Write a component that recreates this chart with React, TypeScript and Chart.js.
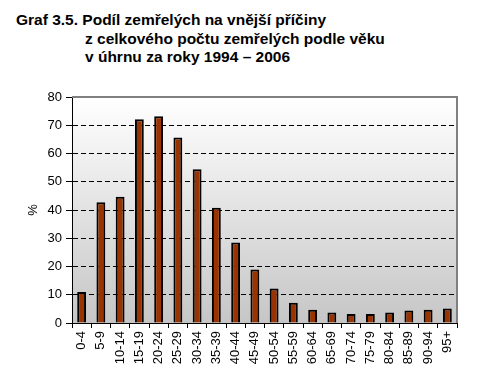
import React, { useEffect, useRef } from "react";
import { Chart, registerables } from "chart.js";

Chart.register(...registerables);

const titleLines = [
  "Graf 3.5. Podíl zemřelých na vnější příčiny",
  "z celkového počtu zemřelých podle věku",
  "v úhrnu za roky 1994 – 2006",
];
const categories = [
  "0-4", "5-9", "10-14", "15-19", "20-24", "25-29", "30-34", "35-39", "40-44", "45-49",
  "50-54", "55-59", "60-64", "65-69", "70-74", "75-79", "80-84", "85-89", "90-94", "95+",
];
const shares = [
  11.0, 42.7, 44.7, 72.1, 73.2, 65.7, 54.4, 40.8, 28.5, 18.9,
  12.2, 7.2, 4.7, 3.7, 3.2, 3.2, 3.7, 4.4, 4.7, 5.1,
];
const yTitle = "%";
const yMax = 80;
const yStep = 10;

const FONT = "'Liberation Sans', Arial, sans-serif";

const plotDecor = {
  id: "plotDecor",
  beforeDraw(chart: any) {
    const { ctx, chartArea: a } = chart;
    ctx.save();
    const g = ctx.createLinearGradient(0, a.top, 0, a.bottom);
    g.addColorStop(0, "#ffffff");
    g.addColorStop(1, "#c6c6c6");
    ctx.fillStyle = g;
    ctx.fillRect(a.left, a.top, a.right - a.left, a.bottom - a.top);
    ctx.restore();
  },
  beforeDatasetsDraw(chart: any) {
    const { ctx, chartArea: a } = chart;
    ctx.save();
    ctx.strokeStyle = "#808080";
    ctx.lineWidth = 2;
    ctx.beginPath();
    ctx.moveTo(a.left, a.top);
    ctx.lineTo(a.right, a.top);
    ctx.lineTo(a.right, a.bottom);
    ctx.stroke();
    // y axis title
    ctx.fillStyle = "#000";
    ctx.font = `13px ${FONT}`;
    ctx.textAlign = "center";
    ctx.textBaseline = "middle";
    ctx.translate(33, (a.top + a.bottom) / 2);
    ctx.rotate(-Math.PI / 2);
    ctx.fillText(yTitle, 0, 0);
    ctx.restore();
  },
};

export default function App() {
  const ref = useRef<HTMLCanvasElement | null>(null);
  useEffect(() => {
    if (!ref.current) return;
    const chart = new Chart(ref.current, {
      type: "bar",
      data: {
        labels: categories,
        datasets: [
          {
            data: shares,
            backgroundColor: "#993300",
            borderColor: "#000000",
            borderWidth: 2,
            borderSkipped: "bottom",
            barPercentage: 0.46,
            categoryPercentage: 1,
          },
        ],
      },
      options: {
        animation: false,
        responsive: false,
        maintainAspectRatio: false,
        layout: { padding: { left: 0, right: 25, top: 97, bottom: 0 } },
        plugins: { legend: { display: false }, tooltip: { enabled: false }, title: { display: false } },
        scales: {
          x: {
            type: "category",
            grid: {
              offset: true,
              drawOnChartArea: false,
              drawTicks: true,
              tickLength: 5,
              tickColor: "#000",
              tickWidth: 1,
            },
            border: { display: true, color: "#000", width: 1 },
            ticks: {
              minRotation: 90,
              maxRotation: 90,
              autoSkip: false,
              color: "#000",
              padding: 3,
              font: { family: FONT, size: 13 },
            },
            afterFit(scale: any) {
              scale.height = 49;
            },
          },
          y: {
            min: 0,
            max: yMax,
            grid: {
              color: (c: any) => (c.tick && (c.tick.value === 0 || c.tick.value === yMax) ? "rgba(0,0,0,0)" : "#000"),
              lineWidth: 1,
              drawTicks: true,
              tickLength: 6,
              tickColor: "#000",
              tickBorderDash: [],
            },
            border: { display: true, color: "#000", width: 1, dash: [5, 3] },
            ticks: {
              stepSize: yStep,
              color: "#000",
              padding: 4,
              font: { family: FONT, size: 13 },
            },
            afterFit(scale: any) {
              scale.width = 72;
            },
          },
        },
      },
      plugins: [plotDecor],
    });
    return () => chart.destroy();
  }, []);

  return (
    <div style={{ position: "absolute", left: 0, top: 0, width: 482, height: 372, background: "#fff" }}>
      <div
        style={{
          position: "absolute",
          left: 16,
          top: 11,
          fontFamily: FONT,
          fontWeight: "bold",
          fontSize: 15.5,
          lineHeight: "18.5px",
          color: "#000",
          whiteSpace: "pre",
        }}
      >
        <div>{titleLines[0]}</div>
        <div style={{ paddingLeft: 69 }}>{titleLines[1]}</div>
        <div style={{ paddingLeft: 69 }}>{titleLines[2]}</div>
      </div>
      <canvas ref={ref} width={482} height={372} style={{ position: "absolute", left: 0, top: 0 }} />
    </div>
  );
}
